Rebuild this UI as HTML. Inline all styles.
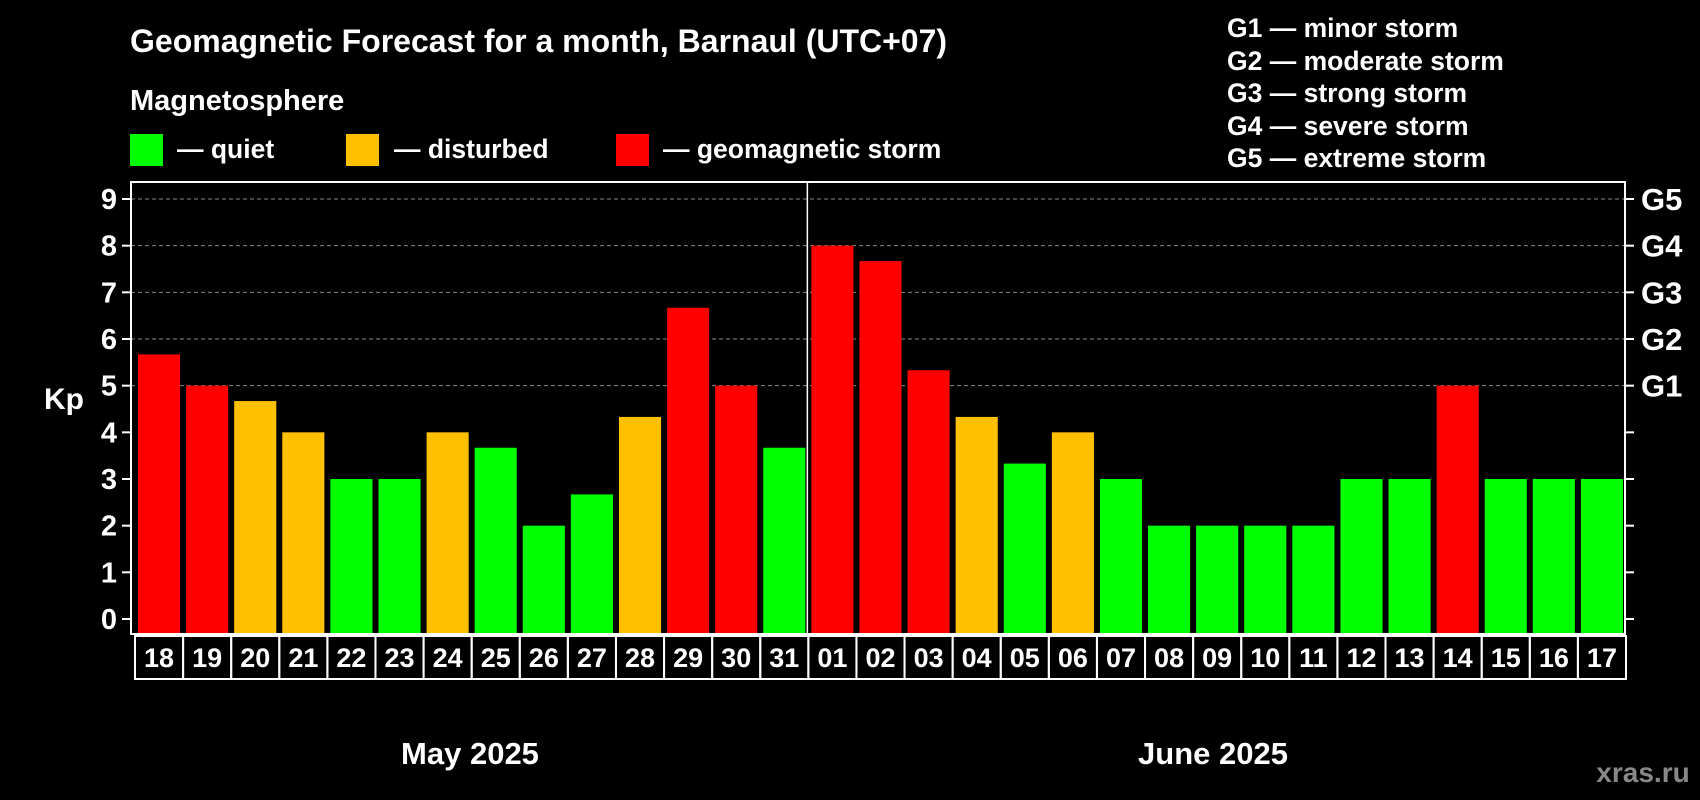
<!DOCTYPE html>
<html><head><meta charset="utf-8"><style>
html,body{margin:0;padding:0;background:#000;width:1700px;height:800px;overflow:hidden}
svg{display:block;font-family:"Liberation Sans",Arial,sans-serif;font-weight:bold}
</style></head><body>
<svg id="chart" width="1700" height="800" viewBox="0 0 1700 800">
<rect width="1700" height="800" fill="#000"/>
<text x="130" y="52" fill="#fff" font-size="32">Geomagnetic Forecast for a month, Barnaul (UTC+07)</text>
<text x="130" y="110" fill="#fff" font-size="29">Magnetosphere</text>
<g><rect x="130" y="134" width="33" height="32" fill="#00ff00"/><text x="177" y="158" fill="#fff" font-size="26.5">— quiet</text></g>
<g><rect x="346" y="134" width="33" height="32" fill="#ffc000"/><text x="394" y="158" fill="#fff" font-size="26.5">— disturbed</text></g>
<g><rect x="616" y="134" width="33" height="32" fill="#ff0000"/><text x="663" y="158" fill="#fff" font-size="26.5">— geomagnetic storm</text></g>
<g fill="#fff" font-size="26.5">
<text x="1227" y="37">G1 — minor storm</text>
<text x="1227" y="70">G2 — moderate storm</text>
<text x="1227" y="102">G3 — strong storm</text>
<text x="1227" y="135">G4 — severe storm</text>
<text x="1227" y="167">G5 — extreme storm</text>
</g>
<text x="64" y="409" fill="#fff" font-size="30" text-anchor="middle">Kp</text>
<g id="grid"></g><g id="bars"></g><g id="axes"></g>
<text x="470" y="764" fill="#fff" font-size="31" text-anchor="middle">May 2025</text>
<text x="1213" y="764" fill="#fff" font-size="31" text-anchor="middle">June 2025</text>
<text x="1643" y="782" fill="#888" font-size="28" text-anchor="middle">xras.ru</text>
</svg>
<script>
const days = ["18","19","20","21","22","23","24","25","26","27","28","29","30","31","01","02","03","04","05","06","07","08","09","10","11","12","13","14","15","16","17"];
const kpValues = [5.67,5,4.67,4,3,3,4,3.67,2,2.67,4.33,6.67,5,3.67,8,7.67,5.33,4.33,3.33,4,3,2,2,2,2,3,3,5,3,3,3];
const yTicks = [0,1,2,3,4,5,6,7,8,9];
const gLabels = ["","","","","","G1","G2","G3","G4","G5"];
const monthSplitIndex = 14;

const NS="http://www.w3.org/2000/svg";
const L=131,R=1625,T=182,B=634;
const y0=619,unit=(619-199)/9;
const pitch=(R-L-3)/days.length;
const yS=v=>y0-v*unit;
const xS=i=>L+4+pitch*i;
function mk(tag,attrs,parent){const e=document.createElementNS(NS,tag);for(const k in attrs)e.setAttribute(k,attrs[k]);parent.appendChild(e);return e;}
const grid=document.getElementById('grid'),bars=document.getElementById('bars'),axes=document.getElementById('axes');
yTicks.forEach((t,i)=>{
  const y=yS(t);
  if(t>=5){const gl=mk('line',{x1:L,x2:R,y1:y,y2:y,stroke:'#888','stroke-width':1,'stroke-dasharray':'4,3'},grid);
  
  }
  mk('line',{x1:L-9,x2:L,y1:y,y2:y,stroke:'#fff','stroke-width':2},axes);
  mk('line',{x1:R,x2:R+9,y1:y,y2:y,stroke:'#fff','stroke-width':2},axes);
  const tl=mk('text',{x:L-14,y:y+10,fill:'#fff','font-size':29,'text-anchor':'end'},axes);
  tl.textContent=t;
  
  
  if(gLabels[i]){const g=mk('text',{x:R+16,y:y+11,fill:'#fff','font-size':31},axes);g.textContent=gLabels[i];
  
  }
});
kpValues.forEach((v,i)=>{
  const c=v>=5?'#ff0000':(v>=4?'#ffc000':'#00ff00');
  const x=xS(i)+3;
  const b=mk('rect',{x:x,y:yS(v),width:pitch-6,height:B-yS(v),fill:c},bars);
  
  
  const cell=mk('rect',{x:xS(i),y:636,width:pitch,height:43,fill:'none',stroke:'#fff','stroke-width':2},axes);
  
  
  const lt=mk('text',{x:xS(i)+pitch/2,y:667,fill:'#fff','font-size':27,'text-anchor':'middle'},axes);
  lt.textContent=days[i];
  
  
});
const fr=mk('rect',{x:L,y:T,width:R-L,height:B-T,fill:'none',stroke:'#fff','stroke-width':2},axes);


const sx=xS(monthSplitIndex)-1;
const sp=mk('line',{x1:sx,x2:sx,y1:T,y2:B,stroke:'#fff','stroke-width':1.5},axes);


</script>
</body></html>
